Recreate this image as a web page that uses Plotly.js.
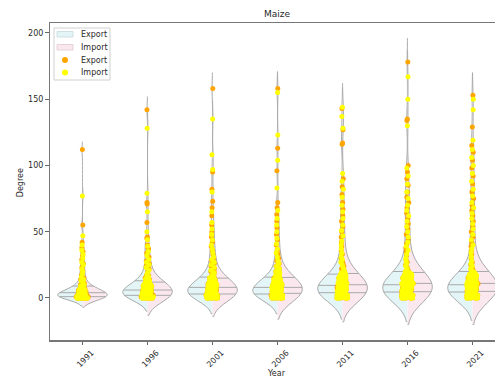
<!DOCTYPE html>
<html><head><meta charset="utf-8">
<script src="https://cdn.plot.ly/plotly-3.0.1.min.js"></script>
<style>body{margin:0;padding:0;background:#fff}</style>
</head><body><div id="chart" style="width:495px;height:380px"></div>
<script>
// ---------------- DATA ----------------
const years = ['1991','1996','2001','2006','2011','2016','2021'];
const yTicks = [0, 50, 100, 150, 200];
const legendLabels = ['Export', 'Import'];

const export1991 = [0,0,0,0,0,0,0,0,0,0,1,1,1,1,1,1,1,1,1,2,2,2,2,2,2,2,2,3,3,3,3,3,3,4,4,4,4,4,5,5,5,5,6,6,6,7,7,7,8,8,9,9,10,11,12,14,15,17,19,21,23,26,29,32,35,38,42,55,112];
const import1991 = [0,0,0,0,0,0,0,0,0,0,0,1,1,1,1,1,1,1,1,1,2,2,2,2,2,2,2,2,3,3,3,3,3,3,4,4,4,4,4,5,5,5,5,6,6,6,7,7,7,8,8,9,9,10,11,13,14,16,18,20,22,25,27,30,33,36,40,47,77];
const export1996 = [0,0,0,0,0,0,0,0,1,1,1,1,1,1,1,2,2,2,2,2,2,2,3,3,3,3,3,3,4,4,4,4,4,4,5,5,5,5,5,6,6,6,6,6,7,7,7,7,8,8,8,8,9,9,9,10,10,10,11,11,12,12,13,13,14,15,16,17,18,20,22,24,26,28,31,34,37,38,40,45,46,57,71,72,142];
const import1996 = [0,0,0,0,0,0,0,0,0,1,1,1,1,1,1,1,2,2,2,2,2,2,2,3,3,3,3,3,3,4,4,4,4,4,5,5,5,5,5,6,6,6,6,6,7,7,7,7,8,8,8,8,9,9,9,10,10,10,11,11,11,12,12,13,13,14,15,16,18,19,21,23,25,27,29,32,35,39,44,50,65,79,128];
const export2001 = [0,0,0,0,0,0,0,1,1,1,1,1,1,2,2,2,2,2,2,3,3,3,3,3,3,4,4,4,4,4,5,5,5,5,5,6,6,6,6,6,7,7,7,7,8,8,8,8,9,9,9,9,10,10,10,11,11,11,12,12,12,13,13,14,14,15,15,16,17,18,19,20,22,24,26,28,30,33,36,39,42,46,50,55,62,68,73,82,95,158];
const import2001 = [0,0,0,0,0,0,0,1,1,1,1,1,1,2,2,2,2,2,2,3,3,3,3,3,4,4,4,4,4,5,5,5,5,5,6,6,6,6,6,7,7,7,7,8,8,8,8,9,9,9,9,10,10,10,11,11,11,12,12,12,13,13,13,14,14,15,15,16,16,18,19,21,23,25,27,29,31,34,37,40,44,48,52,57,65,80,97,108,135];
const export2006 = [0,0,0,0,0,0,0,1,1,1,1,1,1,2,2,2,2,2,2,3,3,3,3,3,4,4,4,4,4,5,5,5,5,5,6,6,6,6,6,7,7,7,7,8,8,8,8,9,9,9,9,10,10,10,11,11,11,12,12,12,13,13,13,14,14,15,15,16,16,17,18,20,22,24,26,28,30,33,36,40,44,48,53,58,63,68,72,96,113,158];
const import2006 = [0,0,0,0,0,0,0,1,1,1,1,1,1,2,2,2,2,2,3,3,3,3,3,4,4,4,4,4,5,5,5,5,5,6,6,6,6,6,7,7,7,7,8,8,8,8,9,9,9,9,10,10,10,10,11,11,11,12,12,12,13,13,13,14,14,14,15,15,16,16,17,17,19,20,22,24,26,28,31,34,37,41,45,50,55,60,66,83,104,123,155];
const export2011 = [0,0,0,0,0,0,1,1,1,1,1,1,2,2,2,2,2,3,3,3,3,3,4,4,4,4,4,5,5,5,5,5,6,6,6,6,6,7,7,7,7,8,8,8,8,9,9,9,9,10,10,10,10,11,11,11,12,12,12,13,13,13,14,14,14,15,15,15,16,16,17,17,18,18,20,22,24,26,28,30,33,36,39,42,46,50,54,58,62,67,72,78,84,90,116,117,127,143];
const import2011 = [0,0,0,0,0,0,1,1,1,1,1,1,2,2,2,2,2,3,3,3,3,3,4,4,4,4,4,5,5,5,5,5,6,6,6,6,7,7,7,7,8,8,8,8,9,9,9,9,10,10,10,10,11,11,11,12,12,12,13,13,13,14,14,14,15,15,15,16,16,16,17,17,18,18,19,19,21,23,25,27,29,31,34,37,40,43,47,51,55,60,65,70,76,82,88,94,128,137,144];
const export2016 = [0,0,0,0,0,0,1,1,1,1,1,2,2,2,2,2,3,3,3,3,3,4,4,4,4,4,5,5,5,5,5,6,6,6,6,6,7,7,7,7,8,8,8,8,9,9,9,9,10,10,10,10,11,11,11,11,12,12,12,13,13,13,14,14,14,15,15,15,16,16,16,17,17,18,18,19,19,21,23,25,27,29,32,35,38,41,44,48,52,56,60,64,68,72,76,80,85,90,95,100,134,135,178];
const import2016 = [0,0,0,0,0,0,1,1,1,1,1,2,2,2,2,2,3,3,3,3,3,4,4,4,4,4,5,5,5,5,5,6,6,6,6,7,7,7,7,8,8,8,8,9,9,9,9,10,10,10,10,11,11,11,11,12,12,12,12,13,13,13,14,14,14,15,15,15,16,16,16,17,17,17,18,18,19,19,20,20,22,24,26,28,30,33,36,39,42,46,50,54,58,62,66,70,75,80,86,92,98,130,150,167];
const export2021 = [0,0,0,0,0,0,1,1,1,1,1,2,2,2,2,2,3,3,3,3,3,4,4,4,4,4,5,5,5,5,5,6,6,6,6,6,7,7,7,7,8,8,8,8,9,9,9,9,10,10,10,10,11,11,11,11,12,12,12,13,13,13,14,14,14,15,15,15,16,16,16,17,17,18,18,19,19,21,23,25,27,30,33,36,39,42,46,50,54,58,62,66,70,75,80,86,92,98,104,110,115,129,153];
const import2021 = [0,0,0,0,0,0,1,1,1,1,1,2,2,2,2,2,3,3,3,3,3,4,4,4,4,4,5,5,5,5,6,6,6,6,7,7,7,7,8,8,8,8,9,9,9,9,10,10,10,10,11,11,11,11,12,12,12,12,13,13,13,14,14,14,15,15,15,16,16,16,17,17,17,18,18,19,19,20,20,22,24,26,28,31,34,37,40,44,48,52,56,60,64,68,72,77,82,88,94,100,106,112,119,142,150];

const exportData = [export1991, export1996, export2001, export2006, export2011, export2016, export2021];
const importData = [import1991, import1996, import2001, import2006, import2011, import2016, import2021];

// ---------------- STYLE ----------------
const exportBw = [3, 5, 6, 6, 8, 9, 8.5];
const importBw = [3.5, 6.5, 7, 8, 9, 10, 10];
const VWIDTH = 0.76;
const CYAN = '#e3f5f7';
const PINK = '#fae8ee';
const GREY = '#a9a9a9';
const ORANGE = '#FFA500';
const YELLOW = '#FFFF00';
const FONT = 'DejaVu Sans, sans-serif';
const TXT = '#2a2a2a';

// plotly-like quartile (linear) and KDE, for the quartile lines
function interp(arr, n) {
  const idx = n * (arr.length - 1);
  const lo = Math.floor(idx), f = idx - lo;
  return lo + 1 < arr.length ? arr[lo] * (1 - f) + arr[lo + 1] * f : arr[lo];
}
function kdeFn(vals, bw) {
  const c = 1 / (vals.length * bw * Math.sqrt(2 * Math.PI));
  return x => { let s = 0; for (const v of vals) { const u = (x - v) / bw; s += Math.exp(-0.5 * u * u); } return s * c; };
}
function quartLines(vals, bw, center, sign, halfW) {
  const s = vals.slice().sort((a, b) => a - b);
  const k = kdeFn(s, bw);
  const lo = s[0] - 2 * bw, hi = s[s.length - 1] + 2 * bw;
  const n = Math.ceil((hi - lo) / (bw / 3));
  let mx = 0;
  for (let i = 0; i <= n; i++) mx = Math.max(mx, k(lo + (hi - lo) * i / n));
  const xs = [], ys = [];
  for (const q of [0.25, 0.5, 0.75]) {
    const v = interp(s, q);
    const hw = halfW * k(v) / mx;
    xs.push(center, center + sign * hw, null);
    ys.push(v, v, null);
  }
  return {xs, ys};
}

const traces = [];
years.forEach((yr, i) => {
  traces.push({type: 'violin', x0: i, y: exportData[i], side: 'negative', width: VWIDTH,
    bandwidth: exportBw[i], spanmode: 'soft', scalemode: 'width', points: false,
    fillcolor: CYAN, line: {color: GREY, width: 1}, name: legendLabels[0],
    showlegend: false, hoverinfo: 'skip', box: {visible: false}, meanline: {visible: false}});
  traces.push({type: 'violin', x0: i, y: importData[i], side: 'positive', width: VWIDTH,
    bandwidth: importBw[i], spanmode: 'soft', scalemode: 'width', points: false,
    fillcolor: PINK, line: {color: GREY, width: 1}, name: legendLabels[1],
    showlegend: false, hoverinfo: 'skip', box: {visible: false}, meanline: {visible: false}});
});
years.forEach((yr, i) => {
  const a = quartLines(exportData[i], exportBw[i], i, -1, VWIDTH / 2);
  const b = quartLines(importData[i], importBw[i], i, 1, VWIDTH / 2);
  traces.push({type: 'scatter', mode: 'lines', x: a.xs.concat(b.xs), y: a.ys.concat(b.ys),
    line: {color: GREY, width: 1}, showlegend: false, hoverinfo: 'skip'});
});
[[exportData, ORANGE], [importData, YELLOW]].forEach(([data, col]) => {
  years.forEach((yr, i) => {
    traces.push({type: 'box', x0: i, y: data[i], xaxis: 'x2', yaxis: 'y2', width: 0.2,
      boxpoints: 'all', jitter: 1, pointpos: 0, fillcolor: 'rgba(0,0,0,0)',
      line: {width: 0, color: 'rgba(0,0,0,0)'}, whiskerwidth: 0,
      marker: {color: col, size: 5, line: {width: 0}}, showlegend: false, hoverinfo: 'skip'});
  });
});

// custom compact legend (paper coords: px -> paper)
const PL = 50, PW = 445, PB = 340, PH = 317;
const px = v => (v - PL) / PW, py = v => (PB - v) / PH;
const shapes = [
  {type: 'rect', xref: 'paper', yref: 'paper', x0: px(54), x1: px(110), y0: py(28), y1: py(80),
    fillcolor: 'rgba(255,255,255,0.85)', line: {color: '#d0d0d0', width: 1}, layer: 'above'},
  {type: 'rect', xref: 'paper', yref: 'paper', x0: px(57), x1: px(73), y0: py(31.5), y1: py(37),
    fillcolor: CYAN, line: {color: '#cfdfe2', width: 1}, layer: 'above'},
  {type: 'rect', xref: 'paper', yref: 'paper', x0: px(57), x1: px(73), y0: py(44.5), y1: py(50),
    fillcolor: PINK, line: {color: '#e4d2d8', width: 1}, layer: 'above'},
  {type: 'circle', xref: 'paper', yref: 'paper', x0: px(62), x1: px(68), y0: py(57), y1: py(63),
    fillcolor: ORANGE, line: {width: 0}, layer: 'above'},
  {type: 'circle', xref: 'paper', yref: 'paper', x0: px(62), x1: px(68), y0: py(69.5), y1: py(75.5),
    fillcolor: YELLOW, line: {width: 0}, layer: 'above'}
];
const legendYs = [34.2, 47.2, 60, 72.5];
const annotations = legendYs.map((y, k) => ({text: legendLabels[k % 2], xref: 'paper', yref: 'paper',
  x: px(79), y: py(y), xanchor: 'left', yanchor: 'middle', showarrow: false,
  font: {family: FONT, size: 8, color: TXT}}));
annotations.push(
  {text: 'Year', xref: 'paper', yref: 'paper', x: 0.51, y: -0.107, showarrow: false,
    xanchor: 'center', yanchor: 'middle', font: {family: FONT, size: 8, color: TXT}},
  {text: 'Degree', xref: 'paper', yref: 'paper', x: -0.067, y: 0.495, showarrow: false,
    textangle: -90, xanchor: 'center', yanchor: 'middle', font: {family: FONT, size: 8, color: TXT}});

const XR = [-0.5, 6.346];
const YR = [-31.7, 207.5];
const layout = {
  width: 495, height: 380,
  margin: {l: 50, r: 0, t: 23, b: 40},
  paper_bgcolor: '#fff', plot_bgcolor: '#fff',
  font: {family: FONT, size: 8, color: TXT},
  showlegend: false,
  violinmode: 'overlay', boxmode: 'overlay',
  title: {text: 'Maize', x: 0.51, xref: 'paper', xanchor: 'center', y: 0.963, yref: 'container', yanchor: 'middle',
    font: {family: FONT, size: 9, color: TXT}},
  xaxis: {type: 'linear', range: XR, tickvals: years.map((y, i) => i), ticktext: years,
    tickangle: -45, ticks: 'outside', ticklen: 3.5, tickcolor: '#666', showgrid: false, zeroline: false,
    showline: true, linecolor: '#777', linewidth: 1.5, mirror: true, ticklabelshift: 9,
    tickfont: {family: FONT, size: 8, color: TXT}},
  yaxis: {range: YR, tickvals: yTicks, ticks: 'outside', ticklen: 3.5, tickcolor: '#666',
    showgrid: false, zeroline: false, showline: true, linecolor: '#777', linewidth: 1.5,
    tickfont: {family: FONT, size: 8, color: TXT}},
  xaxis2: {type: 'linear', range: XR, overlaying: 'x', visible: false},
  yaxis2: {range: YR, overlaying: 'y', visible: false},
  shapes: shapes,
  annotations: annotations
};
Plotly.newPlot('chart', traces, layout, {displayModeBar: false, staticPlot: true});
</script></body></html>
